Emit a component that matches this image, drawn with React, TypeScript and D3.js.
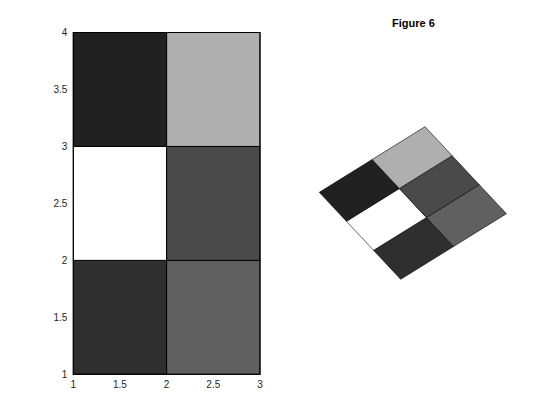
import React from "react";
import * as d3 from "d3";

const xEdges = [1, 2, 3];
const yEdges = [1, 2, 3, 4];
// gray levels (0-255) per cell, row by row from y=1 upward, columns x=1..2
const cellRows = [
  [47, 96],
  [255, 74],
  [33, 175],
];
const xTicks = [1, 1.5, 2, 2.5, 3];
const yTicks = [1, 1.5, 2, 2.5, 3, 3.5, 4];
const title = "Figure 6";

const W = 560;
const H = 420;

export default function App() {
  const x = d3.scaleLinear().domain([1, 3]).range([73.3, 260]);
  const y = d3.scaleLinear().domain([1, 4]).range([374.3, 32.5]);

  // oblique projection for the 3-D view
  const px = d3.scaleLinear().domain([1, 3]).range([0, 1]);
  const py = d3.scaleLinear().domain([1, 4]).range([0, 1]);
  const corner = { x1y4: [319.3, 192.3], x3y4: [425, 126.7], x1y1: [400.7, 279.3] };
  const proj = (xv: number, yv: number): [number, number] => {
    const u = px(xv);
    const v = 1 - py(yv);
    const ox = corner.x1y4[0];
    const oy = corner.x1y4[1];
    return [
      ox + u * (corner.x3y4[0] - ox) + v * (corner.x1y1[0] - ox),
      oy + u * (corner.x3y4[1] - oy) + v * (corner.x1y1[1] - oy),
    ];
  };
  const line = d3.line();

  const cells: { x0: number; x1: number; y0: number; y1: number; g: number }[] = [];
  cellRows.forEach((row, i) =>
    row.forEach((g, j) =>
      cells.push({ x0: xEdges[j], x1: xEdges[j + 1], y0: yEdges[i], y1: yEdges[i + 1], g })
    )
  );
  const gray = (g: number) => d3.rgb(g, g, g).toString();

  return (
    <svg width={W} height={H} style={{ display: "block", position: "absolute", left: 0, top: 0, background: "#fff" }}
      fontFamily="'Liberation Sans', Arial, Helvetica, sans-serif">
      <rect width={W} height={H} fill="#fff" />
      {cells.map((c, k) => (
        <rect key={k} x={x(c.x0)} y={y(c.y1)} width={x(c.x1) - x(c.x0)} height={y(c.y0) - y(c.y1)}
          fill={gray(c.g)} stroke="#000" strokeWidth={1} />
      ))}
      <rect x={x(1)} y={y(4)} width={x(3) - x(1)} height={y(1) - y(4)} fill="none" stroke="#000" strokeWidth={1} />
      {yTicks.map((t) => (
        <text key={"y" + t} x={x(1) - 6} y={y(t) + 3.5} textAnchor="end" fontSize={10} fill="#262626">{t}</text>
      ))}
      {xTicks.map((t) => (
        <text key={"x" + t} x={x(t)} y={y(1) + 13.5} textAnchor="middle" fontSize={10} fill="#262626">{t}</text>
      ))}
      {cells.map((c, k) => (
        <path key={"p" + k}
          d={line([proj(c.x0, c.y0), proj(c.x1, c.y0), proj(c.x1, c.y1), proj(c.x0, c.y1)])! + "Z"}
          fill={gray(c.g)} stroke="#000" strokeWidth={0.6} strokeLinejoin="round" />
      ))}
      <text x={413.5} y={26.5} textAnchor="middle" fontSize={11} fontWeight="bold" fill="#000">{title}</text>
    </svg>
  );
}
